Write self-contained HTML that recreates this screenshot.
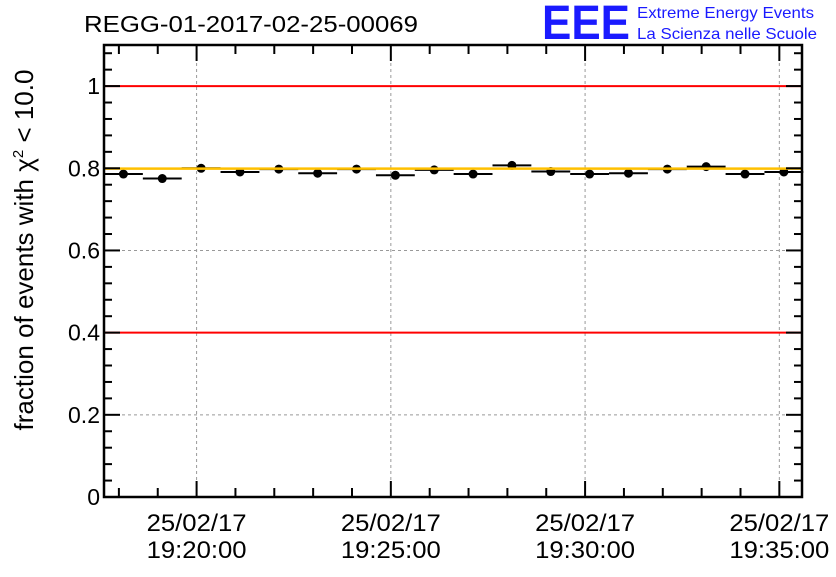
<!DOCTYPE html>
<html><head><meta charset="utf-8"><style>
body{margin:0;background:#fff}
svg text{font-family:"Liberation Sans",sans-serif}
</style></head><body>
<svg id="c" width="836" height="572" xmlns="http://www.w3.org/2000/svg">
<rect width="836" height="572" fill="#fff"/>
<text x="84" y="32" font-size="23" textLength="334" lengthAdjust="spacingAndGlyphs">REGG-01-2017-02-25-00069</text>
<g>
<text x="542" y="39" font-size="48" font-weight="bold" fill="#1a1aff" textLength="88" lengthAdjust="spacingAndGlyphs">EEE</text>
<text x="637" y="18" font-size="16" fill="#1a1aff" textLength="177" lengthAdjust="spacingAndGlyphs">Extreme Energy Events</text>
<text x="637" y="39" font-size="16" fill="#1a1aff" textLength="180" lengthAdjust="spacingAndGlyphs">La Scienza nelle Scuole</text>
</g>
<text transform="translate(33,250) rotate(-90)" text-anchor="middle" font-size="26">fraction of events with χ<tspan dy="-10" font-size="15">2</tspan><tspan dy="10"> &lt; 10.0</tspan></text>
<g id="grid"></g><g id="marks"></g><g id="axes"></g>
</svg>
<script>
const binTimes=["19:18:07","19:19:07","19:20:07","19:21:07","19:22:07","19:23:07","19:24:07","19:25:07","19:26:07","19:27:07","19:28:07","19:29:07","19:30:07","19:31:07","19:32:07","19:33:07","19:34:07","19:35:07"];
const fractions=[0.786,0.775,0.800,0.791,0.798,0.788,0.798,0.783,0.796,0.786,0.807,0.792,0.786,0.788,0.798,0.804,0.786,0.791];
const meanValue=0.799;
const limitLines=[0.4,1.0];
const yTicks=[0,0.2,0.4,0.6,0.8,1.0];
const yTickLabels=["0","0.2","0.4","0.6","0.8","1"];
const xTickTimes=["19:20:00","19:25:00","19:30:00","19:35:00"];
const xDateLabel="25/02/17";
const X0=104,X1=802,Y0=497,Y1=45,YMAX=1.1;
const tMin=sec("19:17:37"),tMax=sec("19:35:35");
const binWidth=60;
function sec(s){const p=s.split(':').map(Number);return p[0]*3600+p[1]*60+p[2];}
function xs(t){return X0+(t-tMin)/(tMax-tMin)*(X1-X0);}
function ys(v){return Y0-v/YMAX*(Y0-Y1);}
const NS="http://www.w3.org/2000/svg";
function mk(tag,at,parent){const e=document.createElementNS(NS,tag);for(const k in at)e.setAttribute(k,at[k]);document.getElementById(parent).appendChild(e);return e;}
xTickTimes.forEach(t=>{const e=mk('line',{x1:xs(sec(t)),x2:xs(sec(t)),y1:Y1,y2:Y0,stroke:'#999','stroke-dasharray':'3,3'},'grid');

});
yTicks.slice(1).forEach(v=>{const e=mk('line',{x1:X0,x2:X1,y1:ys(v),y2:ys(v),stroke:'#999','stroke-dasharray':'3,3'},'grid');

});
limitLines.forEach(v=>{const e=mk('line',{x1:X0,x2:X1,y1:ys(v),y2:ys(v),stroke:'#f00','stroke-width':2},'marks');

});
binTimes.forEach((t,i)=>{const c=sec(t);const y=ys(fractions[i]);
const l=mk('line',{x1:xs(c-binWidth/2),x2:xs(c+binWidth/2),y1:y,y2:y,stroke:'#000','stroke-width':2},'marks');


const p=mk('circle',{cx:xs(c),cy:y,r:4.5,fill:'#000'},'marks');

});
const m=mk('line',{x1:X0,x2:X1,y1:ys(meanValue),y2:ys(meanValue),stroke:'#ffc000','stroke-width':2.5},'marks');


const f=mk('rect',{x:X0,y:Y1,width:X1-X0,height:Y0-Y1,fill:'none',stroke:'#000','stroke-width':2.5},'axes');


for(let k=0;k<=27;k++){const v=k*0.04;const major=k%5==0;const len=major?16:8;
const e=mk('line',{x1:X0,x2:X0+len,y1:ys(v),y2:ys(v),stroke:'#000','stroke-width':2},'axes');


const r=mk('line',{x1:X1,x2:X1-len,y1:ys(v),y2:ys(v),stroke:'#000','stroke-width':2},'axes');

}
yTicks.forEach((v,i)=>{const e=mk('text',{x:X0-4,y:ys(v)+8,'text-anchor':'end','font-size':23},'axes');e.textContent=yTickLabels[i];

});
for(let t=sec("19:18:00");t<=tMax;t+=60){const major=(t%300)==0;const len=major?16:9;
const e=mk('line',{x1:xs(t),x2:xs(t),y1:Y0,y2:Y0-len,stroke:'#000','stroke-width':2},'axes');


const u=mk('line',{x1:xs(t),x2:xs(t),y1:Y1,y2:Y1+len,stroke:'#000','stroke-width':2},'axes');

}
xTickTimes.forEach(t=>{const x=xs(sec(t));
const a=mk('text',{x:x,y:531,'text-anchor':'middle','font-size':24,textLength:100,lengthAdjust:'spacingAndGlyphs'},'axes');a.textContent=xDateLabel;


const b=mk('text',{x:x,y:558,'text-anchor':'middle','font-size':24,textLength:100,lengthAdjust:'spacingAndGlyphs'},'axes');b.textContent=t;

});
</script>
</body></html>
